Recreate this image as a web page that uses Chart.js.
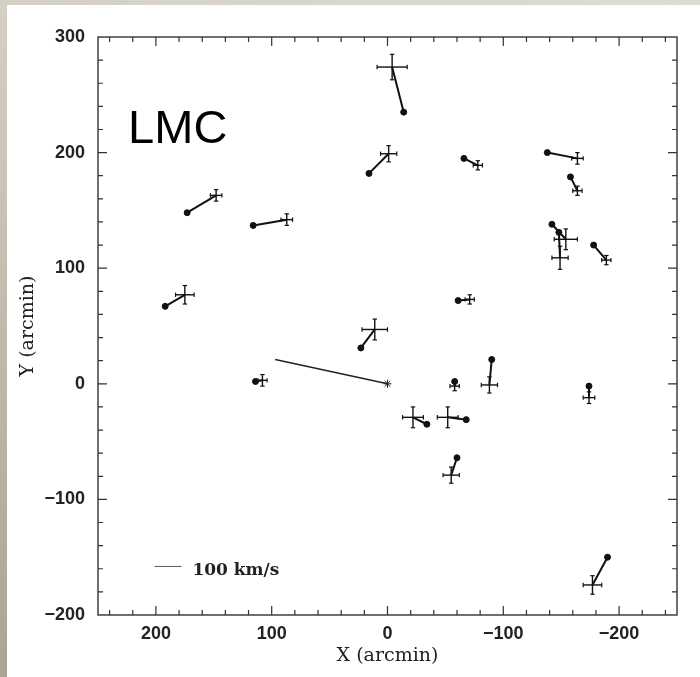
<!DOCTYPE html>
<html><head><meta charset="utf-8">
<script src="https://cdn.jsdelivr.net/npm/chart.js@4"></script>
<style>html,body{margin:0;padding:0;background:#fff;} canvas{display:block;}</style>
</head><body>
<canvas id="c" width="700" height="677"></canvas>
<script>
// ---- Data (arcmin) ----
// cross = measured field position with error bars, dot = end of motion vector
const crossX = [-4, -1, 87, -78, -71, -164, -164, -154, -149, -189, 148, 175, 11, 108, -58, -88, -22, -52, -55, -174, -177];
const crossY = [274, 199, 142, 189, 73, 195, 167, 125, 109, 107, 163, 77, 47, 3, -2, -1, -29, -29, -79, -12, -174];
const errX   = [13, 7, 5, 4, 4, 5, 4, 10, 7, 4, 5, 8, 11, 4, 4, 7, 9, 9, 7, 5, 8];
const errY   = [11, 7, 5, 4, 4, 5, 4, 9, 10, 4, 5, 8, 9, 5, 4, 7, 9, 9, 7, 5, 8];
const dotX   = [-14, 16, 116, -66, -61, -138, -158, -142, -148, -178, 173, 192, 23, 114, -58, -90, -34, -68, -60, -174, -190];
const dotY   = [235, 182, 137, 195, 72, 200, 179, 138, 131, 120, 148, 67, 31, 2, 2, 21, -35, -31, -64, -2, -150];
const centerX = [0, 97];
const centerY = [0, 21];
const scaleBarX = [201, 178];
const scaleBarY = [-158, -158];
const scaleBarLabel = '100 km/s';
const panelLabel = 'LMC';
const panelLabelPos = [224, 208];
const xTickValues = [200, 100, 0, -100, -200];
const yTickValues = [-200, -100, 0, 100, 200, 300];
const xTitle = 'X (arcmin)';
const yTitle = 'Y (arcmin)';

const INK = '#111';
const datasets = [];
for (let i = 0; i < crossX.length; i++) {
  datasets.push({
    data: [{x: crossX[i], y: crossY[i]}, {x: dotX[i], y: dotY[i]}],
    showLine: true, borderColor: INK, borderWidth: 2, pointRadius: 0
  });
  datasets.push({
    data: [{x: crossX[i] - errX[i], y: crossY[i]}, {x: crossX[i] + errX[i], y: crossY[i]}],
    showLine: true, borderColor: INK, borderWidth: 1.4,
    pointStyle: 'line', pointRotation: 90, pointRadius: 2.2,
    pointBorderWidth: 1.2, pointBorderColor: INK
  });
  datasets.push({
    data: [{x: crossX[i], y: crossY[i] - errY[i]}, {x: crossX[i], y: crossY[i] + errY[i]}],
    showLine: true, borderColor: INK, borderWidth: 1.4,
    pointStyle: 'line', pointRotation: 0, pointRadius: 2.2,
    pointBorderWidth: 1.2, pointBorderColor: INK
  });
}
datasets.push({
  data: dotX.map((x, i) => ({x, y: dotY[i]})),
  showLine: false, pointStyle: 'circle', pointRadius: 3,
  pointBackgroundColor: INK, pointBorderColor: INK, pointBorderWidth: 1
});
datasets.push({
  data: centerX.map((x, i) => ({x, y: centerY[i]})),
  showLine: true, borderColor: '#222', borderWidth: 1.5,
  pointStyle: 'star', pointRadius: [4, 0], pointBorderColor: '#222', pointBorderWidth: 1
});
datasets.push({
  data: scaleBarX.map((x, i) => ({x, y: scaleBarY[i]})),
  showLine: true, borderColor: '#555', borderWidth: 1, pointRadius: 0
});

const fmt = v => v < 0 ? '\u2212' + Math.abs(v) : String(v);

const decor = {
  id: 'decor',
  beforeDraw(chart) {
    const ctx = chart.ctx, W = chart.width, H = chart.height;
    ctx.save();
    ctx.fillStyle = '#fff';
    ctx.fillRect(0, 0, W, H);
    const gTop = ctx.createLinearGradient(0, 0, W, 0);
    gTop.addColorStop(0, '#d4d1c4'); gTop.addColorStop(1, '#dedbd0');
    ctx.fillStyle = gTop; ctx.fillRect(0, 0, W, 5);
    const gLeft = ctx.createLinearGradient(0, 0, 0, H);
    gLeft.addColorStop(0, '#d4d1c4'); gLeft.addColorStop(1, '#a8a597');
    ctx.fillStyle = gLeft; ctx.fillRect(0, 0, 7, H);
    ctx.restore();
  },
  afterDraw(chart) {
    const {ctx, chartArea: a, scales: {x, y}} = chart;
    ctx.save();
    ctx.strokeStyle = '#333'; ctx.lineWidth = 1.4;
    ctx.strokeRect(a.left, a.top, a.right - a.left, a.bottom - a.top);
    ctx.lineWidth = 1.2;
    ctx.beginPath();
    for (let v = -240; v <= 240; v += 20) {
      const px = x.getPixelForValue(v), L = v % 100 === 0 ? 9 : 5;
      ctx.moveTo(px, a.bottom); ctx.lineTo(px, a.bottom - L);
      ctx.moveTo(px, a.top); ctx.lineTo(px, a.top + L);
    }
    for (let v = -180; v <= 280; v += 20) {
      const py = y.getPixelForValue(v), L = v % 100 === 0 ? 9 : 5;
      ctx.moveTo(a.left, py); ctx.lineTo(a.left + L, py);
      ctx.moveTo(a.right, py); ctx.lineTo(a.right - L, py);
    }
    ctx.stroke();
    // scale-bar label
    ctx.fillStyle = '#222';
    ctx.font = 'bold 17px "DejaVu Serif"';
    ctx.textAlign = 'left'; ctx.textBaseline = 'alphabetic';
    ctx.fillText(scaleBarLabel, x.getPixelForValue(scaleBarX[1]) + 11, y.getPixelForValue(scaleBarY[0]) + 9);
    // panel label
    ctx.fillStyle = '#000';
    ctx.font = '47px "Liberation Sans"';
    ctx.fillText(panelLabel, x.getPixelForValue(panelLabelPos[0]), y.getPixelForValue(panelLabelPos[1]));
    ctx.restore();
  }
};

new Chart(document.getElementById('c'), {
  type: 'scatter',
  data: {datasets},
  options: {
    responsive: false, animation: false, events: [],
    layout: {padding: {top: 37, right: 23, bottom: 0, left: 0}},
    plugins: {legend: {display: false}, tooltip: {enabled: false}},
    scales: {
      x: {
        type: 'linear', reverse: true, min: -250, max: 250,
        grid: {display: false, drawTicks: false}, border: {display: false},
        afterBuildTicks: s => { s.ticks = xTickValues.map(v => ({value: v})); },
        afterFit: s => { s.height = 62; },
        ticks: {padding: 8, color: '#222', font: {family: '"Liberation Sans"', size: 18, weight: 'bold'}, callback: fmt, maxRotation: 0, autoSkip: false},
        title: {display: true, text: xTitle, color: '#222', font: {family: '"DejaVu Serif"', size: 19}, padding: {top: 0, bottom: 10}}
      },
      y: {
        type: 'linear', min: -200, max: 300,
        grid: {display: false, drawTicks: false}, border: {display: false},
        afterBuildTicks: s => { s.ticks = yTickValues.map(v => ({value: v})); },
        afterFit: s => { s.width = 98; },
        ticks: {padding: 13, color: '#222', font: {family: '"Liberation Sans"', size: 18, weight: 'bold'}, callback: fmt, autoSkip: false},
        title: {display: true, text: yTitle, color: '#222', font: {family: '"DejaVu Serif"', size: 19}, padding: {top: 17, bottom: 0}}
      }
    }
  },
  plugins: [decor]
});
</script>
</body></html>
